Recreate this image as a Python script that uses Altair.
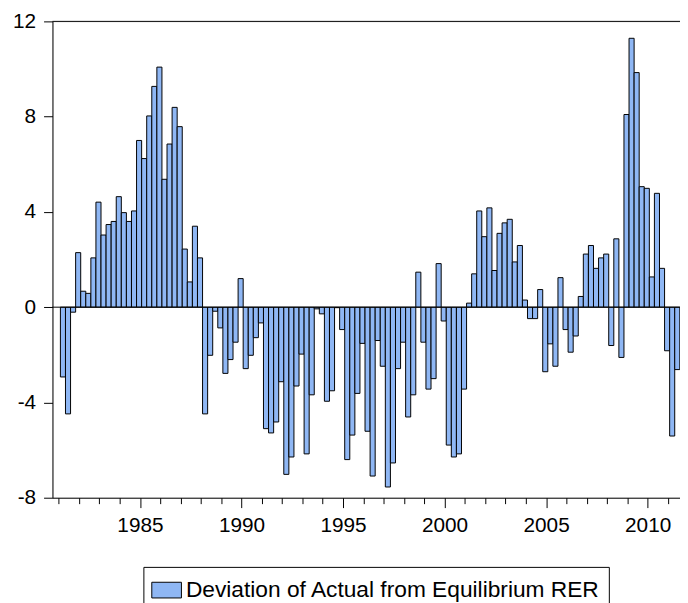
import altair as alt
import pandas as pd

start_year = 1981
series_name = "Deviation of Actual from Equilibrium RER"
values = [
    -2.93, -4.48, -0.21, 2.29, 0.67, 0.58, 2.07, 4.41, 3.03, 3.47,
    3.60, 4.64, 3.97, 3.60, 4.04, 7.00, 6.24, 8.03, 9.27, 10.08,
    5.37, 6.85, 8.39, 7.58, 2.44, 1.06, 3.40, 2.07, -4.48, -2.02,
    -0.17, -0.87, -2.78, -2.20, -1.47, 1.20, -2.58, -2.02, -1.28, -0.66,
    -5.10, -5.28, -4.82, -3.13, -7.02, -6.29, -3.31, -1.97, -6.16, -3.68,
    -0.07, -0.28, -3.95, -3.51, -0.02, -0.94, -6.40, -5.37, -3.62, -1.52,
    -5.21, -7.09, -1.40, -2.48, -7.55, -6.54, -2.58, -1.47, -4.61, -3.68,
    1.47, -1.47, -3.44, -3.00, 1.83, -0.58, -5.79, -6.29, -6.16, -3.44,
    0.17, 1.40, 4.04, 2.96, 4.17, 1.54, 3.10, 3.54, 3.69, 1.90,
    2.59, 0.30, -0.48, -0.48, 0.74, -2.71, -1.54, -2.48, 1.24, -0.94,
    -1.89, -1.21, 0.45, 2.23, 2.59, 1.63, 2.07, 2.23, -1.61, 2.87,
    -2.11, 8.09, 11.29, 9.85, 5.06, 4.99, 1.27, 4.78, 1.63, -1.83,
    -5.41, -2.62,
]
y_ticks = [-8, -4, 0, 4, 8, 12]
x_ticks = list(range(1981, 2012))

FONT = "Liberation Sans"
FILL = "#8FB7F4"
OFFSET = 1 / 12  # bars sit slightly right of the year tick

t0 = [start_year + i / 4 + OFFSET for i in range(len(values))]
df = pd.DataFrame({
    "t0": t0,
    "t1": [t + 0.25 for t in t0],
    "v": values,
    "s": [series_name] * len(values),
})

xscale = alt.Scale(domain=[1980.693, 2011.593], nice=False, zero=False)
yscale = alt.Scale(domain=[-8, 12], nice=False, zero=False)

bars = alt.Chart(df).mark_rect(stroke="black", strokeWidth=1).encode(
    x=alt.X(
        "t0:Q",
        scale=xscale,
        title=None,
        axis=alt.Axis(
            values=x_ticks,
            labelExpr="datum.value % 5 === 0 ? '' + datum.value : ''",
            tickSize={"condition": {"test": "datum.value % 5 === 0", "value": 10}, "value": 6},
            labelPadding=7,
            grid=False,
            domainColor="black",
            tickColor="black",
            labelColor="black",
            labelFont=FONT,
            labelFontSize=21,
            labelOverlap=False,
            labelFlush=False,
        ),
    ),
    x2="t1",
    y=alt.Y(
        "v:Q",
        scale=yscale,
        title=None,
        axis=alt.Axis(
            values=y_ticks,
            labelExpr="'' + datum.value",
            tickSize=9,
            labelPadding=8,
            grid=False,
            domainColor="black",
            tickColor="black",
            labelColor="black",
            labelFont=FONT,
            labelFontSize=21,
            labelOverlap=False,
            labelFlush=False,
        ),
    ),
    y2=alt.datum(0),
    color=alt.Color(
        "s:N",
        scale=alt.Scale(domain=[series_name], range=[FILL]),
        legend=alt.Legend(
            title=None,
            orient="none",
            legendX=92,
            legendY=552,
            padding=8,
            strokeColor="black",
            fillColor="white",
            symbolType="M-1,-0.53H1V0.53H-1Z",
            symbolSize=900,
            symbolStrokeColor="black",
            symbolStrokeWidth=1,
            symbolOpacity=1,
            labelFont=FONT,
            labelFontSize=23,
            labelColor="black",
            labelOffset=4,
            labelLimit=1000,
        ),
    ),
)

zero_line = alt.Chart(pd.DataFrame({"y": [0]})).mark_rule(color="black", strokeWidth=1).encode(
    y=alt.datum(0)
)
top_line = alt.Chart(pd.DataFrame({"y": [12]})).mark_rule(color="black", strokeWidth=1).encode(
    y=alt.datum(12)
)

chart = alt.layer(bars, zero_line, top_line).properties(
    width=635,
    height=482,
    autosize=alt.AutoSizeParams(type="none"),
    padding={"left": 45, "top": 10, "right": 0, "bottom": 103},
).configure_view(stroke=None).configure(background="white")

chart.save("out.html", embed_options={"renderer": "svg", "actions": False})
